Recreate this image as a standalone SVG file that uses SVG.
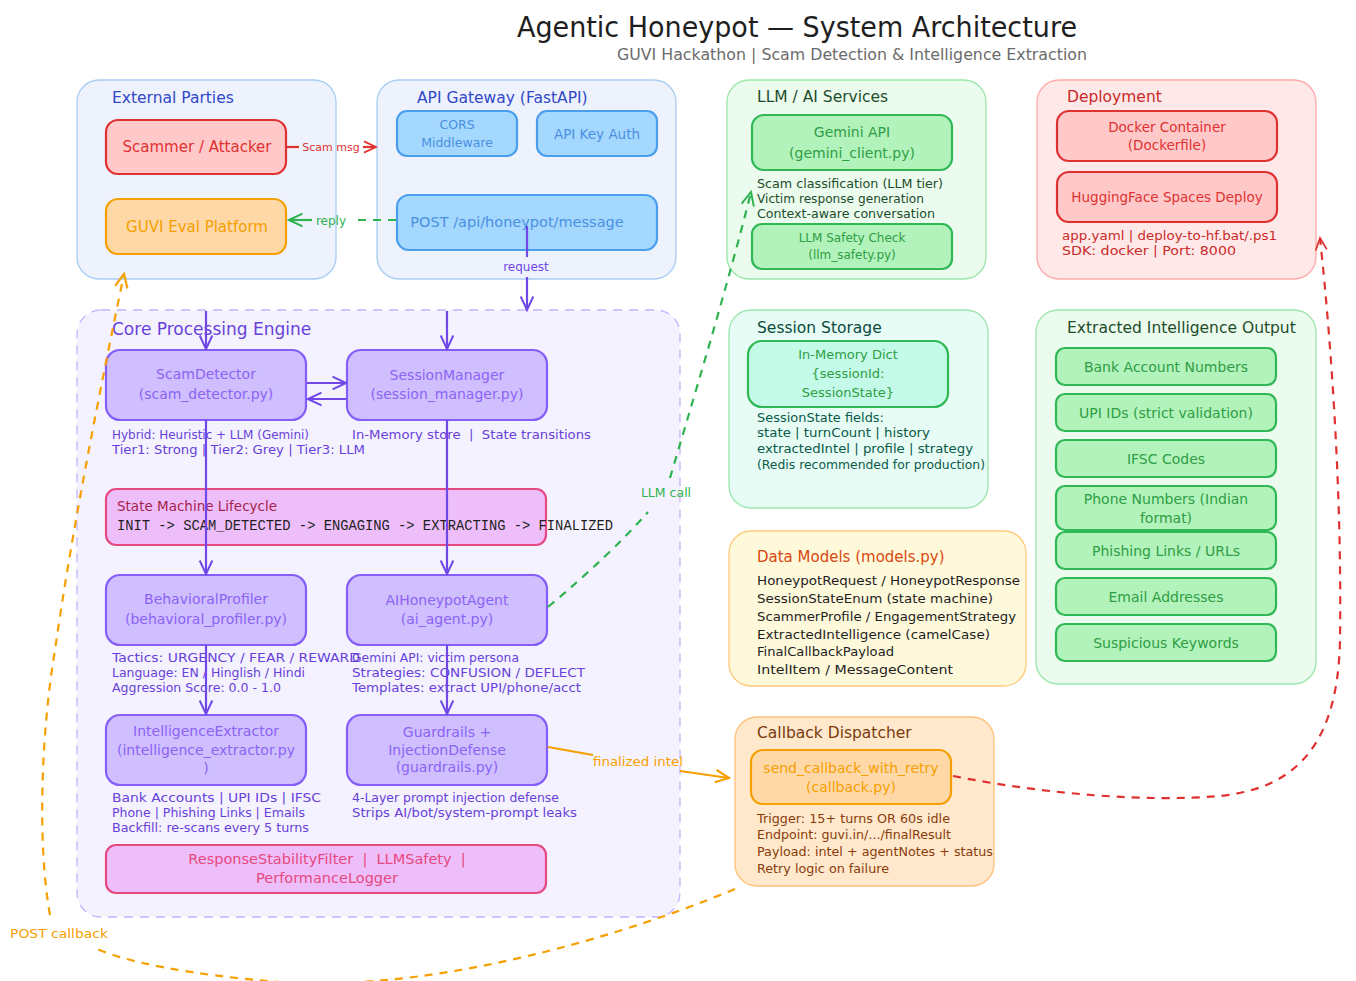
<svg xmlns="http://www.w3.org/2000/svg" width="1356" height="981" viewBox="0 0 1356 981">
<defs>
<style>
text{font-family:"DejaVu Sans","Liberation Sans",sans-serif;white-space:pre}
.grp{stroke-width:1.3}
.box{stroke-width:2.2}
.c{text-anchor:middle}
.gt{font-size:15.5px}
.note{font-size:12px}
.mono{font-family:"Liberation Mono","DejaVu Sans Mono",monospace;font-size:13.8px;fill:#1e1e1e}
.blue-g{fill:#eef2fd;stroke:#a8cdf2}
.blue-b{fill:#a5d8ff;stroke:#4a9eed}
.blue-t{fill:#4a90e2}
.purple-b{fill:#d0bfff;stroke:#845ef7}
.purple-t{fill:#8b63f5;font-size:14px}
.purple-n{fill:#6741d9}
.green-g{fill:#ebfbee;stroke:#9ae6ad}
.green-b{fill:#b2f2bb;stroke:#30b856}
.green-t{fill:#2f9e44}
.pink-b{fill:#eebefa;stroke:#e64980}
.con{fill:none;stroke-width:2.2}
.dash{stroke-dasharray:8 7}
</style>
<marker id="mRed" viewBox="0 0 20 20" refX="18" refY="10" markerWidth="16" markerHeight="16" orient="auto" markerUnits="userSpaceOnUse"><path d="M3,3 L18,10 L3,17" fill="none" stroke="#e03131" stroke-width="2.2"/></marker>
<marker id="mGreen" viewBox="0 0 20 20" refX="18" refY="10" markerWidth="18" markerHeight="18" orient="auto" markerUnits="userSpaceOnUse"><path d="M3,3 L18,10 L3,17" fill="none" stroke="#2fb350" stroke-width="2.2"/></marker>
<marker id="mPurple" viewBox="0 0 20 20" refX="18" refY="10" markerWidth="18" markerHeight="18" orient="auto" markerUnits="userSpaceOnUse"><path d="M3,3 L18,10 L3,17" fill="none" stroke="#7048e8" stroke-width="2.2"/></marker>
<marker id="mOrange" viewBox="0 0 20 20" refX="18" refY="10" markerWidth="18" markerHeight="18" orient="auto" markerUnits="userSpaceOnUse"><path d="M3,3 L18,10 L3,17" fill="none" stroke="#f59f00" stroke-width="2.4"/></marker>
</defs>
<rect width="1356" height="981" fill="#ffffff"/>

<g id="title">
<text x="797" y="37" class="c" font-size="28" fill="#1e1e1e" textLength="560" lengthAdjust="spacingAndGlyphs">Agentic Honeypot — System Architecture</text>
<text x="1087" y="60" text-anchor="end" font-size="15.5" fill="#6b6b6b" textLength="470" lengthAdjust="spacingAndGlyphs">GUVI Hackathon | Scam Detection &amp; Intelligence Extraction</text>
</g>

<!-- External Parties -->
<g id="external-parties">
<rect x="77" y="80" width="259" height="199" rx="22" class="grp blue-g"/>
<text x="112" y="103" class="gt" fill="#3148c8">External Parties</text>
</g>
<g id="scammer">
<rect x="106" y="120" width="180" height="54" rx="12" class="box" fill="#ffc9c9" stroke="#e03131"/>
<text x="197" y="152" class="c" font-size="15" fill="#e03131">Scammer / Attacker</text>
</g>
<g id="guvi">
<rect x="106" y="199" width="180" height="55" rx="12" class="box" fill="#ffd8a8" stroke="#f59f00"/>
<text x="197" y="232" class="c" font-size="15" fill="#f59f00">GUVI Eval Platform</text>
</g>

<!-- API Gateway -->
<g id="api-gateway">
<rect x="377" y="80" width="299" height="199" rx="22" class="grp blue-g"/>
<text x="417" y="103" class="gt" fill="#3148c8">API Gateway (FastAPI)</text>
</g>
<g id="cors">
<rect x="397" y="111" width="120" height="45" rx="10" class="box blue-b"/>
<text x="457" y="129" class="c blue-t" font-size="12.5">CORS</text>
<text x="457" y="147" class="c blue-t" font-size="12.5">Middleware</text>
</g>
<g id="apikey">
<rect x="537" y="111" width="120" height="45" rx="10" class="box blue-b"/>
<text x="597" y="139" class="c blue-t" font-size="13.5">API Key Auth</text>
</g>
<g id="post-endpoint">
<rect x="397" y="195" width="260" height="55" rx="12" class="box blue-b"/>
<text x="517" y="227" class="c blue-t" font-size="14.5">POST /api/honeypot/message</text>
</g>

<!-- LLM / AI Services -->
<g id="llm-services">
<rect x="727" y="80" width="259" height="199" rx="22" class="grp green-g"/>
<text x="757" y="102" class="gt" fill="#1e4d2b">LLM / AI Services</text>
<text x="757" y="188" class="note" fill="#1e4d2b" textLength="186" lengthAdjust="spacingAndGlyphs">Scam classification (LLM tier)</text>
<text x="757" y="203" class="note" fill="#1e4d2b" textLength="167" lengthAdjust="spacingAndGlyphs">Victim response generation</text>
<text x="757" y="218" class="note" fill="#1e4d2b" textLength="178" lengthAdjust="spacingAndGlyphs">Context-aware conversation</text>
</g>
<g id="gemini">
<rect x="752" y="115" width="200" height="55" rx="12" class="box green-b"/>
<text x="852" y="137" class="c green-t" font-size="14">Gemini API</text>
<text x="852" y="158" class="c green-t" font-size="14">(gemini_client.py)</text>
</g>
<g id="llm-safety">
<rect x="752" y="224" width="200" height="45" rx="10" class="box green-b"/>
<text x="852" y="242" class="c green-t" font-size="12">LLM Safety Check</text>
<text x="852" y="259" class="c green-t" font-size="12">(llm_safety.py)</text>
</g>

<!-- Deployment -->
<g id="deployment">
<rect x="1037" y="80" width="279" height="199" rx="22" class="grp" fill="#ffe8e8" stroke="#ffa8a8"/>
<text x="1067" y="102" class="gt" fill="#c92a2a">Deployment</text>
<text x="1062" y="240" class="note" fill="#c92a2a" textLength="215" lengthAdjust="spacingAndGlyphs">app.yaml | deploy-to-hf.bat/.ps1</text>
<text x="1062" y="255" class="note" fill="#c92a2a" textLength="174" lengthAdjust="spacingAndGlyphs">SDK: docker | Port: 8000</text>
</g>
<g id="docker">
<rect x="1057" y="111" width="220" height="50" rx="12" class="box" fill="#ffc9c9" stroke="#e03131"/>
<text x="1167" y="132" class="c" font-size="13.5" fill="#e03131">Docker Container</text>
<text x="1167" y="150" class="c" font-size="13.5" fill="#e03131">(Dockerfile)</text>
</g>
<g id="hf-deploy">
<rect x="1057" y="172" width="220" height="50" rx="12" class="box" fill="#ffc9c9" stroke="#e03131"/>
<text x="1167" y="202" class="c" font-size="13.5" fill="#e03131">HuggingFace Spaces Deploy</text>
</g>

<!-- Core Processing Engine -->
<g id="core-engine">
<rect x="77" y="310" width="603" height="607" rx="24" class="grp" fill="#f5f2ff" stroke="#c4b5fd" stroke-dasharray="9 7"/>
<text x="112" y="335" font-size="17" fill="#6741d9">Core Processing Engine</text>
<text x="112" y="439" class="note purple-n" textLength="197" lengthAdjust="spacingAndGlyphs">Hybrid: Heuristic + LLM (Gemini)</text>
<text x="112" y="454" class="note purple-n" textLength="253" lengthAdjust="spacingAndGlyphs">Tier1: Strong | Tier2: Grey | Tier3: LLM</text>
<text x="352" y="439" class="note purple-n" textLength="239" lengthAdjust="spacingAndGlyphs">In-Memory store  |  State transitions</text>
<text x="112" y="662" class="note purple-n" textLength="248" lengthAdjust="spacingAndGlyphs">Tactics: URGENCY / FEAR / REWARD</text>
<text x="112" y="677" class="note purple-n" textLength="193" lengthAdjust="spacingAndGlyphs">Language: EN / Hinglish / Hindi</text>
<text x="112" y="692" class="note purple-n" textLength="169" lengthAdjust="spacingAndGlyphs">Aggression Score: 0.0 - 1.0</text>
<text x="352" y="662" class="note purple-n" textLength="167" lengthAdjust="spacingAndGlyphs">Gemini API: victim persona</text>
<text x="352" y="677" class="note purple-n" textLength="233" lengthAdjust="spacingAndGlyphs">Strategies: CONFUSION / DEFLECT</text>
<text x="352" y="692" class="note purple-n" textLength="229" lengthAdjust="spacingAndGlyphs">Templates: extract UPI/phone/acct</text>
<text x="112" y="802" class="note purple-n" textLength="209" lengthAdjust="spacingAndGlyphs">Bank Accounts | UPI IDs | IFSC</text>
<text x="112" y="817" class="note purple-n" textLength="193" lengthAdjust="spacingAndGlyphs">Phone | Phishing Links | Emails</text>
<text x="112" y="832" class="note purple-n" textLength="197" lengthAdjust="spacingAndGlyphs">Backfill: re-scans every 5 turns</text>
<text x="352" y="802" class="note purple-n" textLength="207" lengthAdjust="spacingAndGlyphs">4-Layer prompt injection defense</text>
<text x="352" y="817" class="note purple-n" textLength="225" lengthAdjust="spacingAndGlyphs">Strips AI/bot/system-prompt leaks</text>
</g>
<g id="scam-detector">
<rect x="106" y="350" width="200" height="70" rx="14" class="box purple-b"/>
<text x="206" y="379" class="c purple-t">ScamDetector</text>
<text x="206" y="399" class="c purple-t">(scam_detector.py)</text>
</g>
<g id="session-manager">
<rect x="347" y="350" width="200" height="70" rx="14" class="box purple-b"/>
<text x="447" y="380" class="c purple-t">SessionManager</text>
<text x="447" y="399" class="c purple-t">(session_manager.py)</text>
</g>
<g id="state-machine">
<rect x="106" y="489" width="440" height="56" rx="10" class="box pink-b"/>
<text x="117" y="511" font-size="13.5" fill="#a61e4d">State Machine Lifecycle</text>
<text x="117" y="530" class="mono" textLength="496" lengthAdjust="spacingAndGlyphs">INIT -&gt; SCAM_DETECTED -&gt; ENGAGING -&gt; EXTRACTING -&gt; FINALIZED</text>
</g>
<g id="behavioral-profiler">
<rect x="106" y="575" width="200" height="70" rx="14" class="box purple-b"/>
<text x="206" y="604" class="c purple-t">BehavioralProfiler</text>
<text x="206" y="624" class="c purple-t">(behavioral_profiler.py)</text>
</g>
<g id="ai-agent">
<rect x="347" y="575" width="200" height="70" rx="14" class="box purple-b"/>
<text x="447" y="605" class="c purple-t">AIHoneypotAgent</text>
<text x="447" y="624" class="c purple-t">(ai_agent.py)</text>
</g>
<g id="intel-extractor">
<rect x="106" y="715" width="200" height="70" rx="14" class="box purple-b"/>
<text x="206" y="736" class="c purple-t">IntelligenceExtractor</text>
<text x="206" y="755" class="c purple-t">(intelligence_extractor.py</text>
<text x="206" y="773" class="c purple-t">)</text>
</g>
<g id="guardrails">
<rect x="347" y="715" width="200" height="70" rx="14" class="box purple-b"/>
<text x="447" y="737" class="c purple-t" font-size="13">Guardrails +</text>
<text x="447" y="755" class="c purple-t" font-size="13">InjectionDefense</text>
<text x="447" y="772" class="c purple-t" font-size="13">(guardrails.py)</text>
</g>
<g id="utilities">
<rect x="106" y="845" width="440" height="48" rx="10" class="box pink-b"/>
<text x="327" y="864" class="c" font-size="14.5" fill="#e64980">ResponseStabilityFilter  |  LLMSafety  |</text>
<text x="327" y="883" class="c" font-size="14.5" fill="#e64980">PerformanceLogger</text>
</g>

<!-- Session Storage -->
<g id="session-storage">
<rect x="729" y="310" width="259" height="198" rx="22" class="grp" fill="#e6fcf5" stroke="#9ae6ad"/>
<text x="757" y="333" class="gt" fill="#0c4a3e">Session Storage</text>
<text x="757" y="422" class="note" fill="#0c5a4a" textLength="127" lengthAdjust="spacingAndGlyphs">SessionState fields:</text>
<text x="757" y="437" class="note" fill="#0c5a4a" textLength="173" lengthAdjust="spacingAndGlyphs">state | turnCount | history</text>
<text x="757" y="453" class="note" fill="#0c5a4a" textLength="216" lengthAdjust="spacingAndGlyphs">extractedIntel | profile | strategy</text>
<text x="757" y="469" class="note" fill="#0c5a4a" textLength="228" lengthAdjust="spacingAndGlyphs">(Redis recommended for production)</text>
</g>
<g id="in-memory-dict">
<rect x="748" y="341" width="200" height="66" rx="14" class="box" fill="#c3fae8" stroke="#30b856"/>
<text x="848" y="359" class="c green-t" font-size="13">In-Memory Dict</text>
<text x="848" y="378" class="c green-t" font-size="13">{sessionId:</text>
<text x="848" y="397" class="c green-t" font-size="13">SessionState}</text>
</g>

<!-- Data Models -->
<g id="data-models">
<rect x="729" y="531" width="297" height="155" rx="22" class="grp" fill="#fff9db" stroke="#ffc978"/>
<text x="757" y="562" font-size="15" fill="#d9480f">Data Models (models.py)</text>
<text x="757" y="585" font-size="13" fill="#1e1e1e" textLength="263" lengthAdjust="spacingAndGlyphs">HoneypotRequest / HoneypotResponse</text>
<text x="757" y="603" font-size="13" fill="#1e1e1e" textLength="236" lengthAdjust="spacingAndGlyphs">SessionStateEnum (state machine)</text>
<text x="757" y="621" font-size="13" fill="#1e1e1e" textLength="259" lengthAdjust="spacingAndGlyphs">ScammerProfile / EngagementStrategy</text>
<text x="757" y="639" font-size="13" fill="#1e1e1e" textLength="233" lengthAdjust="spacingAndGlyphs">ExtractedIntelligence (camelCase)</text>
<text x="757" y="656" font-size="13" fill="#1e1e1e" textLength="137" lengthAdjust="spacingAndGlyphs">FinalCallbackPayload</text>
<text x="757" y="674" font-size="13" fill="#1e1e1e" textLength="196" lengthAdjust="spacingAndGlyphs">IntelItem / MessageContent</text>
</g>

<!-- Extracted Intelligence Output -->
<g id="intel-output">
<rect x="1036" y="310" width="280" height="374" rx="22" class="grp green-g"/>
<text x="1067" y="333" class="gt" fill="#1e4d2b">Extracted Intelligence Output</text>
</g>
<g id="out-bank"><rect x="1056" y="348" width="220" height="37" rx="9" class="box green-b"/><text x="1166" y="372" class="c green-t" font-size="14">Bank Account Numbers</text></g>
<g id="out-upi"><rect x="1056" y="394" width="220" height="37" rx="9" class="box green-b"/><text x="1166" y="418" class="c green-t" font-size="14">UPI IDs (strict validation)</text></g>
<g id="out-ifsc"><rect x="1056" y="440" width="220" height="37" rx="9" class="box green-b"/><text x="1166" y="464" class="c green-t" font-size="14">IFSC Codes</text></g>
<g id="out-phone"><rect x="1056" y="486" width="220" height="44" rx="9" class="box green-b"/><text x="1166" y="504" class="c green-t" font-size="14">Phone Numbers (Indian</text><text x="1166" y="523" class="c green-t" font-size="14">format)</text></g>
<g id="out-links"><rect x="1056" y="532" width="220" height="37" rx="9" class="box green-b"/><text x="1166" y="556" class="c green-t" font-size="14">Phishing Links / URLs</text></g>
<g id="out-email"><rect x="1056" y="578" width="220" height="37" rx="9" class="box green-b"/><text x="1166" y="602" class="c green-t" font-size="14">Email Addresses</text></g>
<g id="out-keywords"><rect x="1056" y="624" width="220" height="37" rx="9" class="box green-b"/><text x="1166" y="648" class="c green-t" font-size="14">Suspicious Keywords</text></g>

<!-- Callback Dispatcher -->
<g id="callback-dispatcher">
<rect x="735" y="717" width="259" height="169" rx="22" class="grp" fill="#ffe8cc" stroke="#ffc078"/>
<text x="757" y="738" class="gt" fill="#7a3b0c">Callback Dispatcher</text>
<text x="757" y="823" class="note" fill="#8a3d0b" textLength="193" lengthAdjust="spacingAndGlyphs">Trigger: 15+ turns OR 60s idle</text>
<text x="757" y="839" class="note" fill="#8a3d0b" textLength="194" lengthAdjust="spacingAndGlyphs">Endpoint: guvi.in/.../finalResult</text>
<text x="757" y="856" class="note" fill="#8a3d0b" textLength="236" lengthAdjust="spacingAndGlyphs">Payload: intel + agentNotes + status</text>
<text x="757" y="873" class="note" fill="#8a3d0b" textLength="132" lengthAdjust="spacingAndGlyphs">Retry logic on failure</text>
</g>
<g id="send-callback">
<rect x="751" y="750" width="200" height="54" rx="12" class="box" fill="#ffd8a8" stroke="#f59f00"/>
<text x="851" y="773" class="c" font-size="14" fill="#f59f00">send_callback_with_retry</text>
<text x="851" y="792" class="c" font-size="14" fill="#f59f00">(callback.py)</text>
</g>

<!-- Connectors -->
<g id="connectors">
<path d="M287,147 L299,147" class="con" stroke="#e03131"/>
<path d="M363,147 L376,147" class="con" stroke="#e03131" marker-end="url(#mRed)"/>
<text x="331" y="151" class="c" font-size="11" fill="#e03131">Scam msg</text>

<path d="M396,220 L352,220" class="con dash" stroke="#2fb350"/>
<path d="M312,220 L289,220" class="con" stroke="#2fb350" marker-end="url(#mGreen)"/>
<text x="331" y="225" class="c" font-size="12" fill="#2fb350">reply</text>

<path d="M527,226 L527,257" class="con" stroke="#7048e8"/>
<text x="526" y="271" class="c" font-size="12" fill="#7048e8">request</text>
<path d="M527,277 L527,310" class="con" stroke="#7048e8" marker-end="url(#mPurple)"/>

<path d="M206,311 L206,349" class="con" stroke="#7048e8" marker-end="url(#mPurple)"/>
<path d="M447,311 L447,349" class="con" stroke="#7048e8" marker-end="url(#mPurple)"/>
<path d="M307,383 L346,383" class="con" stroke="#7048e8" marker-end="url(#mPurple)"/>
<path d="M346,399 L308,399" class="con" stroke="#7048e8" marker-end="url(#mPurple)"/>
<path d="M206,420 L206,574" class="con" stroke="#7048e8" marker-end="url(#mPurple)"/>
<path d="M447,420 L447,574" class="con" stroke="#7048e8" marker-end="url(#mPurple)"/>
<path d="M206,645 L206,714" class="con" stroke="#7048e8" marker-end="url(#mPurple)"/>
<path d="M447,645 L447,714" class="con" stroke="#7048e8" marker-end="url(#mPurple)"/>

<path d="M548,607 Q610,555 648,512" class="con dash" stroke="#2fb350"/>
<text x="666" y="497" class="c" font-size="12.5" fill="#2fb350">LLM call</text>
<path d="M670,478 C690,410 728,285 751,192" class="con dash" stroke="#2fb350" marker-end="url(#mGreen)"/>

<path d="M548,747 L593,755" class="con" stroke="#f59f00" stroke-width="2.6"/>
<text x="638" y="766" class="c" font-size="12.5" fill="#f59f00" textLength="90" lengthAdjust="spacingAndGlyphs">finalized intel</text>
<path d="M680,771 L729,778" class="con" stroke="#f59f00" stroke-width="2.6" marker-end="url(#mOrange)"/>

<path d="M735,889 C600,945 420,992 280,982 C190,975 125,962 95,948" class="con dash" stroke="#f59f00" stroke-width="2.4"/>
<path d="M50,915 C38,850 40,740 55,650 C72,530 100,390 124,274" class="con dash" stroke="#f59f00" stroke-width="2.4" marker-end="url(#mOrange)"/>
<text x="10" y="938" font-size="12.5" fill="#f59f00" textLength="98" lengthAdjust="spacingAndGlyphs">POST callback</text>

<path d="M953,776 C1050,795 1150,802 1220,796 C1300,788 1338,740 1340,640 C1342,500 1332,350 1320,238" class="con dash" stroke="#e03131" marker-end="url(#mRed)"/>
</g>
</svg>
